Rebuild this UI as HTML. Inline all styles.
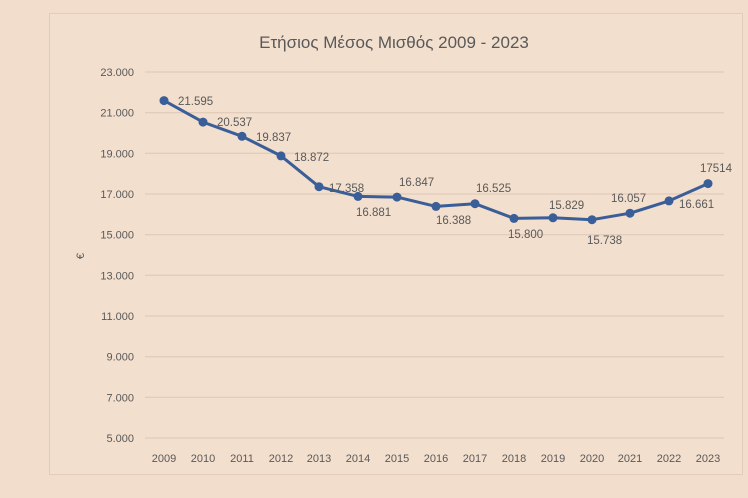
<!DOCTYPE html><html><head><style>body{margin:0;background:#f2dccb}svg{display:block}text{font-family:"Liberation Sans","DejaVu Sans",sans-serif;fill:#595959}</style></head><body>
<svg width="748" height="498" viewBox="0 0 748 498">
<rect width="748" height="498" fill="#f2dccb"/>
<rect x="49.5" y="13.5" width="693" height="461" fill="#f3dfce" stroke="#e2cbb8"/>
<text x="394" y="48" text-anchor="middle" font-size="17" fill="#595959">Ετήσιος Μέσος Μισθός 2009 - 2023</text>
<g stroke="#dcc7b5" stroke-width="1">
<line x1="145" x2="724" y1="72" y2="72"/><line x1="145" x2="724" y1="112.7" y2="112.7"/><line x1="145" x2="724" y1="153.3" y2="153.3"/><line x1="145" x2="724" y1="194" y2="194"/><line x1="145" x2="724" y1="234.7" y2="234.7"/><line x1="145" x2="724" y1="275.3" y2="275.3"/><line x1="145" x2="724" y1="316" y2="316"/><line x1="145" x2="724" y1="356.7" y2="356.7"/><line x1="145" x2="724" y1="397.3" y2="397.3"/><line x1="145" x2="724" y1="438" y2="438"/>
</g>
<g font-size="11" text-anchor="end">
<text x="134" y="76">23.000</text><text x="134" y="116.7">21.000</text><text x="134" y="157.3">19.000</text><text x="134" y="198">17.000</text><text x="134" y="238.7">15.000</text><text x="134" y="279.3">13.000</text><text x="134" y="320">11.000</text><text x="134" y="360.7">9.000</text><text x="134" y="401.3">7.000</text><text x="134" y="442">5.000</text>
</g>
<text x="84" y="256" font-size="11" transform="rotate(-90 84 256)" text-anchor="middle">€</text>
<g font-size="11" text-anchor="middle">
<text x="164" y="462">2009</text><text x="203" y="462">2010</text><text x="242" y="462">2011</text><text x="281" y="462">2012</text><text x="319" y="462">2013</text><text x="358" y="462">2014</text><text x="397" y="462">2015</text><text x="436" y="462">2016</text><text x="475" y="462">2017</text><text x="514" y="462">2018</text><text x="553" y="462">2019</text><text x="592" y="462">2020</text><text x="630" y="462">2021</text><text x="669" y="462">2022</text><text x="708" y="462">2023</text>
</g>
<polyline fill="none" stroke="#3a5e98" stroke-width="3" stroke-linejoin="round" points="164,100.6 203,122.1 242,136.3 281,155.9 319,186.7 358,196.4 397,197.1 436,206.4 475,203.7 514,218.4 553,217.8 592,219.7 630,213.2 669,200.9 708,183.6"/>
<g fill="#3a5e98">
<circle cx="164" cy="100.6" r="4.5"/><circle cx="203" cy="122.1" r="4.5"/><circle cx="242" cy="136.3" r="4.5"/><circle cx="281" cy="155.9" r="4.5"/><circle cx="319" cy="186.7" r="4.5"/><circle cx="358" cy="196.4" r="4.5"/><circle cx="397" cy="197.1" r="4.5"/><circle cx="436" cy="206.4" r="4.5"/><circle cx="475" cy="203.7" r="4.5"/><circle cx="514" cy="218.4" r="4.5"/><circle cx="553" cy="217.8" r="4.5"/><circle cx="592" cy="219.7" r="4.5"/><circle cx="630" cy="213.2" r="4.5"/><circle cx="669" cy="200.9" r="4.5"/><circle cx="708" cy="183.6" r="4.5"/>
</g>
<g font-size="11.5">
<text x="178" y="105">21.595</text><text x="217" y="126">20.537</text><text x="256" y="141">19.837</text><text x="294" y="161">18.872</text><text x="329" y="192">17.358</text><text x="356" y="216">16.881</text><text x="399" y="186">16.847</text><text x="436" y="224">16.388</text><text x="476" y="192">16.525</text><text x="508" y="238">15.800</text><text x="549" y="209">15.829</text><text x="587" y="244">15.738</text><text x="611" y="202">16.057</text><text x="679" y="208">16.661</text><text x="700" y="172">17514</text>
</g>
</svg></body></html>
